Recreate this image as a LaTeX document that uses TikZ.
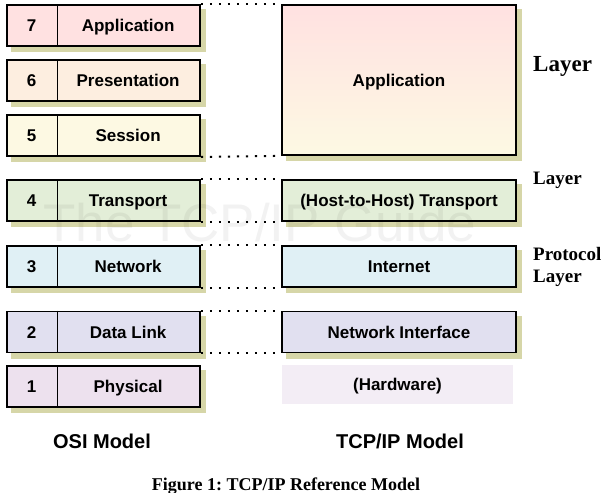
\documentclass[tikz,border=0pt]{standalone}
\usepackage{fontspec}
\setmainfont{Liberation Serif}
\setsansfont{Liberation Sans}
\definecolor{c7}{HTML}{FFE1E1}
\definecolor{c6}{HTML}{FDEEE0}
\definecolor{c5}{HTML}{FDF9E3}
\definecolor{c4}{HTML}{E3EED8}
\definecolor{c3}{HTML}{E0F0F5}
\definecolor{c2}{HTML}{E1E0F0}
\definecolor{c1}{HTML}{EDE1EE}
\definecolor{chw}{HTML}{F3EDF5}
\definecolor{shadowc}{RGB}{214,214,168}
\tikzset{
  layerbox/.style={draw=black, line width=1.8pt, minimum height=41pt, inner sep=0pt},
  osibox/.style={layerbox, minimum width=193pt},
  tcpbox/.style={layerbox, minimum width=234pt},
  osishadow/.style={fill=shadowc, draw=none, inner sep=0pt, minimum width=195pt, minimum height=43pt},
  tcpshadow/.style={fill=shadowc, draw=none, inner sep=0pt, minimum width=236pt, minimum height=43pt},
  boxtxt/.style={font=\sffamily\bfseries\fontsize{17}{20}\selectfont, inner sep=0pt, text height=12pt, text depth=0pt},
  modeltxt/.style={font=\sffamily\bfseries\fontsize{20}{24}\selectfont, inner sep=0pt, text height=14.5pt, text depth=0pt},
  sidetxt/.style={font=\rmfamily\bfseries\fontsize{19}{22}\selectfont, inner sep=0pt, anchor=base west},
  divider/.style={line width=0.9pt},
  dotline/.style={line width=2pt, dash pattern=on 2.2pt off 6.8pt},
}
\begin{document}
\begin{tikzpicture}[x=1pt,y=-1pt]
\useasboundingbox (0,0) rectangle (611,493);
% shadows (offset 5 right, 5 down)
\foreach \y [count=\i] in {25.5,80.5,135.5,200.5,266.5,332,386.5}{
  \node[osishadow] (so\i) at (108.5,\y+5) {};
}
\node[tcpshadow, minimum height=152pt] (sapp) at (404,85) {};
\foreach \y [count=\i] in {200.5,266.5,332}{
  \node[tcpshadow] (st\i) at (404,\y+5) {};
}
% OSI boxes
\node[osibox, fill=c7] (o7) at (103.5,25.5) {};
\node[osibox, fill=c6] (o6) at (103.5,80.5) {};
\node[osibox, fill=c5] (o5) at (103.5,135.5) {};
\node[osibox, fill=c4] (o4) at (103.5,200.5) {};
\node[osibox, fill=c3] (o3) at (103.5,266.5) {};
\node[osibox, fill=c2] (o2) at (103.5,332) {};
\node[osibox, fill=c1] (o1) at (103.5,386.5) {};
\foreach \n in {o7,o6,o5,o4,o3,o2,o1}{
  \draw[divider] ([xshift=51pt]\n.north west) -- ([xshift=51pt]\n.south west);
}
\foreach \n/\num/\name in {o7/7/Application,o6/6/Presentation,o5/5/Session,o4/4/Transport,o3/3/Network,o2/2/Data Link,o1/1/Physical}{
  \node[boxtxt] (\n num) at ([xshift=25.5pt]\n.west) {\num};
  \node[boxtxt] (\n name) at ([xshift=122pt]\n.west) {\name};
}
% TCP/IP boxes
\node[tcpbox, minimum height=150pt, top color=c7, bottom color=c5] (tapp) at (399,80) {};
\node[boxtxt] at (tapp.center) {Application};
\node[tcpbox, fill=c4] (ttr) at (399,200.5) {};
\node[boxtxt] at (ttr.center) {(Host-to-Host) Transport};
\node[tcpbox, fill=c3] (tint) at (399,266.5) {};
\node[boxtxt] at (tint.center) {Internet};
\node[tcpbox, fill=c2] (tni) at (399,332) {};
\node[boxtxt] at (tni.center) {Network Interface};
\node[fill=chw, minimum width=231pt, minimum height=39pt, inner sep=0pt] (thw) at (397.5,384.5) {};
\node[boxtxt] at (thw.center) {(Hardware)};
% dotted connectors
\draw[dotline] (o7.north east) -- (tapp.north west);
\draw[dotline] (o5.south east) -- (tapp.south west);
\draw[dotline] (o4.north east) -- (ttr.north west);
\draw[dotline] (o4.south east) -- (ttr.south west);
\draw[dotline] (o3.north east) -- (tint.north west);
\draw[dotline] (o3.south east) -- (tint.south west);
\draw[dotline] (o2.north east) -- (tni.north west);
\draw[dotline] (o2.south east) -- (tni.south west);
% watermark
\node[font=\sffamily\fontsize{53}{60}\selectfont, text=black, opacity=0.05, anchor=base west, inner sep=0pt] (wm) at (43,241) {The TCP/IP Guide};
% model labels
\node[modeltxt] (osim) at (102,441) {OSI Model};
\node[modeltxt] (tcpm) at (400,441) {TCP/IP Model};
% side texts
\node[sidetxt, font=\rmfamily\bfseries\fontsize{23}{26}\selectfont] (s1) at (533,71) {Layer};
\node[sidetxt] (s2) at (533,184) {Layer};
\node[sidetxt] (s3) at (533,260) {Protocol};
\node[sidetxt] (s4) at (533,282) {Layer};
% caption
\node[font=\rmfamily\bfseries\fontsize{18}{20}\selectfont, inner sep=0pt, anchor=base] (cap) at (286,490.5) {\frenchspacing Figure 1: TCP/IP Reference Model};
\end{tikzpicture}
\end{document}
